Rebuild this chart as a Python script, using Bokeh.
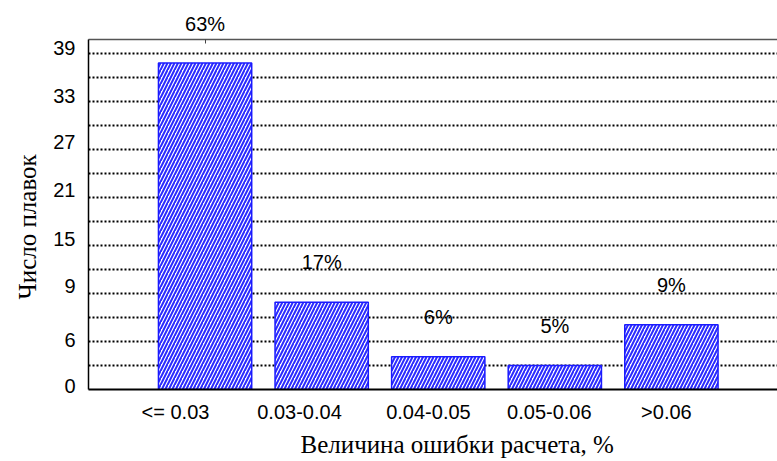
import math
from bokeh.plotting import figure
from bokeh.models import ColumnDataSource, Range1d, LinearAxis, FixedTicker, LabelSet, Title
from bokeh.core.properties import value
from bokeh.embed import file_html
from bokeh.resources import INLINE

# ---- data ----
categories = ["<= 0.03", "0.03-0.04", "0.04-0.05", "0.05-0.06", ">0.06"]
counts = [40.8, 10.9, 4.1, 3.0, 8.1]
pct_labels = ["63%", "17%", "6%", "5%", "9%"]
y_tick_labels = ["0", "6", "9", "15", "21", "27", "33", "39"]

# ---- layout helpers (positions, not data) ----
y_tick_pos = [0.5, 6.2, 13.0, 18.8, 24.9, 30.9, 36.75, 42.7]
cat_label_shift = [-0.254, -0.19, -0.084, -0.047, -0.043]
grid_pos = [3 * i for i in range(1, 15)]
Y_MAX = 43.75

xs = [i + 1 for i in range(len(categories))]
cat_tick_pos = [x + s for x, s in zip(xs, cat_label_shift)]

SANS = "Liberation Sans"
SERIF = "Liberation Serif"
FS = "20px"

p = figure(width=777, height=461,
           x_range=Range1d(0, 5.91), y_range=Range1d(0, Y_MAX),
           output_backend="svg", toolbar_location=None,
           x_axis_location=None, y_axis_location=None,
           min_border_left=88, min_border_right=0,
           min_border_top=39, min_border_bottom=72)
p.outline_line_color = None
p.background_fill_color = "white"
p.border_fill_color = "white"

# grid
p.xgrid.visible = False
p.ygrid.ticker = FixedTicker(ticks=grid_pos)
p.ygrid.grid_line_color = "black"
p.ygrid.grid_line_dash = "2 2"
p.ygrid.grid_line_width = 2

# labels that fit inside the frame go on the bars; the one that does not goes on the top axis
inside = [c + 5 < Y_MAX for c in counts]
src = ColumnDataSource(dict(x=xs, top=counts))
lab_src = ColumnDataSource(dict(
    x=[x for x, k in zip(xs, inside) if k],
    y=[c + 5 for c, k in zip(counts, inside) if k],
    pct=[t for t, k in zip(pct_labels, inside) if k]))
top_ticks = [x for x, k in zip(xs, inside) if not k]
top_labels = {x: t for x, t, k in zip(xs, pct_labels, inside) if not k}

p.vbar(x="x", top="top", bottom=0, width=0.8, source=src,
       fill_color="white", line_color="#1a1aff", line_width=1.5,
       hatch_pattern="/", hatch_color="#2a2aff", hatch_scale=7, hatch_weight=2)

# left axis
yax = LinearAxis(ticker=FixedTicker(ticks=y_tick_pos),
                 major_label_overrides={pos: lab for pos, lab in zip(y_tick_pos, y_tick_labels)})
yax.axis_line_color = "black"
yax.axis_line_width = 1.5
yax.major_tick_in = 0
yax.major_tick_out = 0
yax.minor_tick_line_color = None
yax.major_label_standoff = 13
yax.major_label_text_font = SANS
yax.major_label_text_font_size = FS
yax.major_label_text_color = "black"
p.add_layout(yax, "left")

# bottom axis
xax = LinearAxis(ticker=FixedTicker(ticks=cat_tick_pos),
                 major_label_overrides={pos: lab for pos, lab in zip(cat_tick_pos, categories)})
xax.axis_line_color = "black"
xax.axis_line_width = 2
xax.major_tick_in = 0
xax.major_tick_out = 0
xax.minor_tick_line_color = None
xax.major_label_standoff = 11
xax.major_label_text_font = SANS
xax.major_label_text_font_size = FS
xax.major_label_text_color = "black"
p.add_layout(xax, "below")

# top axis: frame line, carries the label of the bar that exceeds the frame
tax = LinearAxis(ticker=FixedTicker(ticks=top_ticks), major_label_overrides=top_labels)
tax.axis_line_color = "#555555"
tax.axis_line_width = 1.5
tax.major_tick_in = 4
tax.major_tick_out = 0
tax.major_tick_line_color = "#444444"
tax.minor_tick_line_color = None
tax.major_label_text_font = SANS
tax.major_label_text_font_size = FS
tax.major_label_text_color = "black"
tax.major_label_standoff = 5
p.add_layout(tax, "above")

# percentage labels
p.add_layout(LabelSet(x="x", y="y", text="pct", source=lab_src,
                      text_align="center", text_baseline="middle",
                      text_font=value(SANS), text_font_size=value(FS),
                      text_color="black"))

# axis titles
p.add_layout(Title(text="Величина ошибки расчета, %", align="left", offset=212,
                   standoff=6, text_font=SERIF, text_font_size="25px",
                   text_font_style="normal", text_color="black"), "below")
p.add_layout(Title(text="Число плавок", align="left", offset=90,
                   standoff=19, text_font=SERIF, text_font_size="25px",
                   text_font_style="normal", text_color="black"), "left")

open("out.html", "w").write(file_html(p, INLINE))
